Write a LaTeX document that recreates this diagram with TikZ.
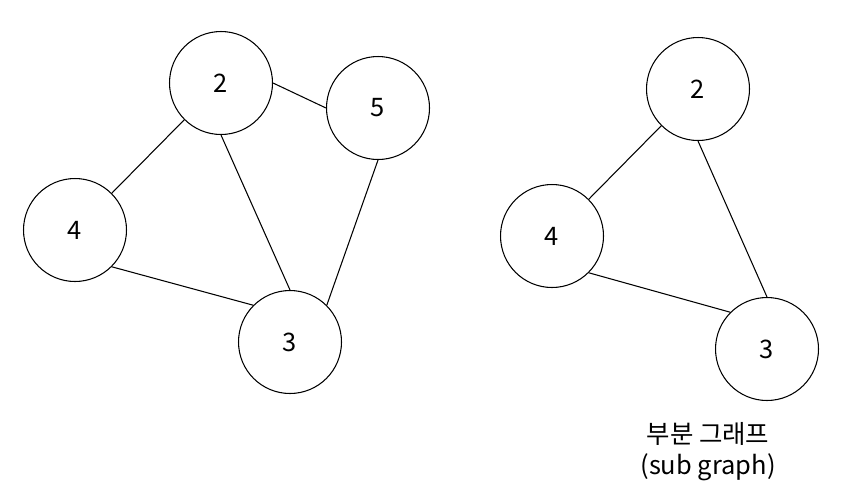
\documentclass[tikz,border=0pt]{standalone}
\usepackage{fontspec}
\setmainfont{Noto Sans CJK KR}
\usepackage{tikz}
\usetikzlibrary{positioning}
\usepackage{xcolor}
\definecolor{graphLine}{HTML}{000000}
\tikzset{
    vertex/.style={circle, draw=graphLine, fill=white, line width=0.6pt, minimum size=2.06cm, inner sep=0pt, font=\fontsize{14.5}{17}\selectfont},
    edge/.style={draw=graphLine, line width=0.6pt},
    caption/.style={align=center, font=\fontsize{14.5}{17.5}\selectfont},
}
\begin{document}
\begin{tikzpicture}[x=0.02cm, y=-0.02cm]
    \useasboundingbox (0,0) rectangle (847,501);
    % full graph
    \node[vertex] (g2) at (221,83) {2};
    \node[vertex] (g5) at (378,108) {5};
    \node[vertex] (g4) at (75,230) {4};
    \node[vertex] (g3) at (290,342) {3};
    \draw[edge] (g2.east) -- (g5.west);
    \draw[edge] (g2.south west) -- (g4.north east);
    \draw[edge] (g2.south) -- (g3.north);
    \draw[edge] (g5.south) -- (g3.north east);
    \draw[edge] (g4.south east) -- (g3.north west);
    % sub graph
    \node[vertex] (s2) at (698,89) {2};
    \node[vertex] (s4) at (552,236) {4};
    \node[vertex] (s3) at (767,349) {3};
    \draw[edge] (s2.south west) -- (s4.north east);
    \draw[edge] (s2.south) -- (s3.north);
    \draw[edge] (s4.south east) -- (s3.north west);
    \node[caption] (subLabel) at (708,452) {부분 그래프\\(sub graph)};
\end{tikzpicture}
\end{document}
